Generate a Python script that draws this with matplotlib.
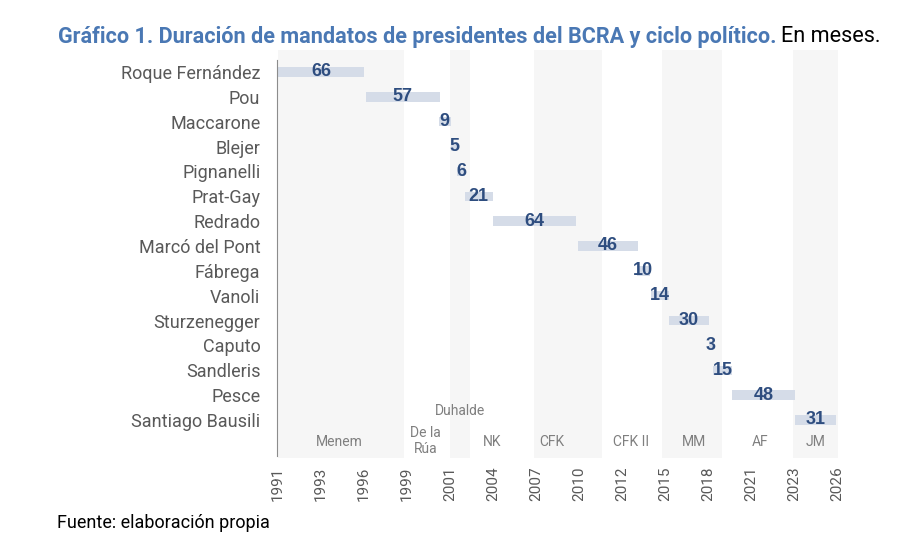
import pandas as pd
import numpy as np
import matplotlib
matplotlib.use("Agg")
import matplotlib.pyplot as plt
import matplotlib.dates as mdates

# presidentes del BCRA: inicio del mandato y duracion en meses
names = ['Roque Fernández', 'Pou', 'Maccarone', 'Blejer', 'Pignanelli', 'Prat-Gay',
         'Redrado', 'Marcó del Pont', 'Fábrega', 'Vanoli', 'Sturzenegger', 'Caputo',
         'Sandleris', 'Pesce', 'Santiago Bausili']
start = ['1991-01', '1996-08', '2001-04', '2002-01', '2002-06', '2002-12', '2004-09',
         '2010-02', '2013-11', '2014-10', '2015-12', '2018-06', '2018-09', '2019-12',
         '2023-12']
months = [66, 57, 9, 5, 6, 21, 64, 46, 10, 14, 30, 3, 15, 48, 31]

# ciclo politico (bandas sombreadas alternadas)
periods = ['Menem', 'De la\nRúa', 'Duhalde', 'NK', 'CFK', 'CFK II', 'MM', 'AF', 'JM']
period_edges = ['1991-01-01', '1999-01-20', '2001-12-05', '2003-03-15', '2007-05-01',
                '2011-08-27', '2015-06-20', '2019-04-14', '2023-10-18', '2026-11-04']

# layout
label_x = ['1994-12', '2000-06', '2002-08', '2004-09', '2008-06', '2013-07',
           '2017-07', '2021-09', '2025-04']
label_y = [14.88, 14.85, 13.64, 14.88, 14.88, 14.88, 14.88, 14.88, 14.88]

BAR = '#d5dce8'
NUM = '#2e4d7f'
BAND = '#f6f6f6'
GREY = '#7f7f7f'

plt.rcParams['font.family'] = ['Roboto', 'DejaVu Sans']

fig = plt.figure(figsize=(9.07, 5.46), dpi=100)
ax = fig.add_axes([277 / 907, 1 - 458 / 546, 561 / 907, 408 / 546])

x0 = pd.Timestamp('1991-01-01')
ticks = pd.date_range(x0, periods=14, freq='1000D')

edges = pd.to_datetime(period_edges)
for i in range(len(periods)):
    if i % 2 == 0:
        ax.axvspan(edges[i], edges[i + 1], color=BAND, lw=0, zorder=0)
    ax.text(pd.Timestamp(label_x[i]), label_y[i], periods[i], ha='center', va='center',
            fontsize=10, color=GREY, linespacing=1.25)

starts = pd.to_datetime(start)
ends = [s + pd.DateOffset(months=m) for s, m in zip(starts, months)]
ypos = np.arange(len(names))
for y, s, e, m in zip(ypos, starts, ends, months):
    ax.barh(y, e - s, left=s, height=0.38, color=BAR, lw=0, zorder=2)
    ax.text(s + (e - s) / 2, y, str(m), ha='center', va='center', fontsize=13,
            fontweight='bold', color=NUM, family=['Liberation Sans', 'DejaVu Sans'], zorder=3)

ax.set_ylim(15.53, -0.885)
ax.set_xlim(x0 - pd.Timedelta(days=20), ticks[-1] + pd.Timedelta(days=20))
ax.set_xticks(ticks)
ax.xaxis.set_major_formatter(mdates.DateFormatter('%Y'))
ax.set_yticks(ypos)
ax.set_yticklabels(names)
ax.tick_params(length=0)
ax.tick_params(axis='y', pad=12, labelsize=13, labelcolor='#595959')
ax.tick_params(axis='x', pad=6, labelsize=11, labelcolor='#595959', labelrotation=90)

for sp in ['top', 'right', 'bottom']:
    ax.spines[sp].set_visible(False)
ax.spines['left'].set_color('#8c8c8c')
ax.spines['left'].set_position(('data', mdates.date2num(x0 - pd.Timedelta(days=20))))
ax.spines['left'].set_bounds(15.45, -0.48)

t1 = fig.text(58 / 907, 1 - 37 / 546,
              'Gráfico 1. Duración de mandatos de presidentes del BCRA y ciclo político.',
              fontsize=15.6, fontweight='bold', color='#4a78b4', va='center')
fig.canvas.draw()
bb = t1.get_window_extent()
fig.text(bb.x1 / fig.bbox.width + 0.005, 1 - 37 / 546, 'En meses.', fontsize=15.6,
         color='black', va='center')

fig.text(57 / 907, 1 - 523 / 546, 'Fuente: elaboración propia', fontsize=13,
         color='black', va='center')

fig.savefig('out.png', dpi=100)
